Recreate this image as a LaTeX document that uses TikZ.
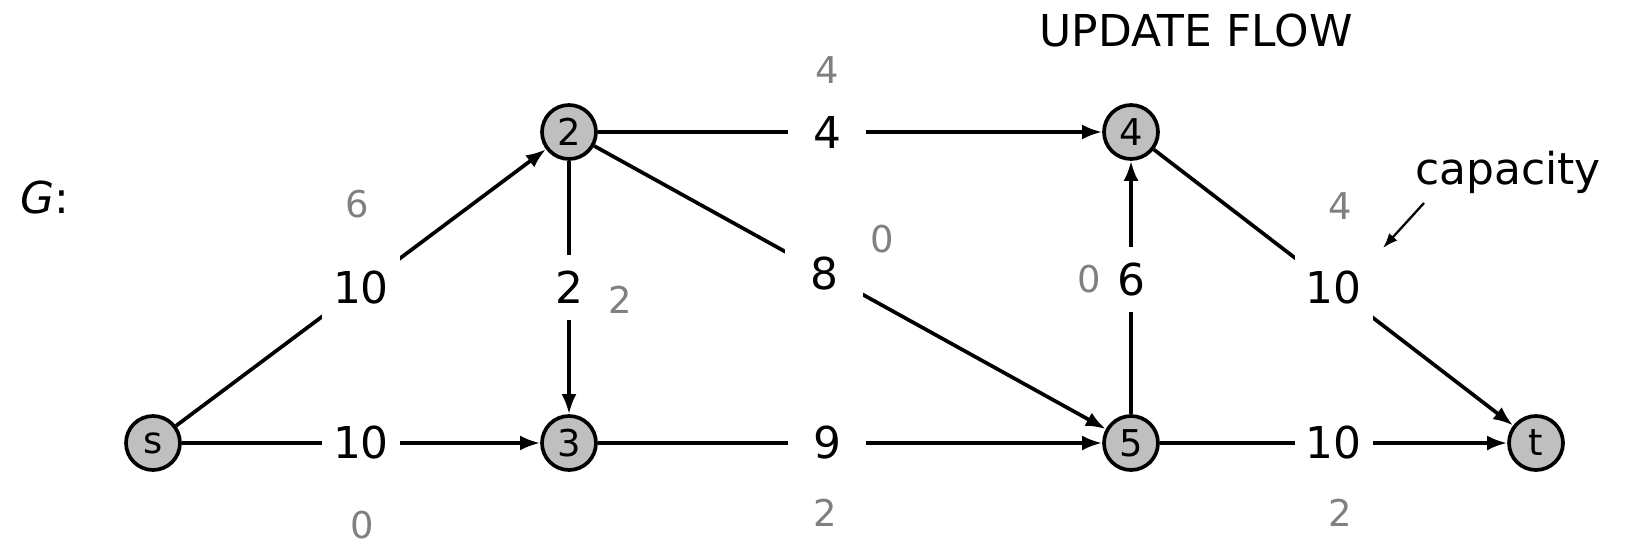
\documentclass[tikz,border=0pt]{standalone}
\usepackage{fontspec}
\setmainfont{DejaVu Sans}
\usetikzlibrary{arrows.meta}

\begin{document}
\begin{tikzpicture}[
  x=0.02cm, y=-0.02cm,
  >={Latex[length=0.4cm, width=0.3cm]}, line width=2.1pt,
  vertex/.style = {draw, circle, fill=gray!50, minimum size=1.08cm, inner sep=0pt,
                   font=\fontsize{21}{25}\selectfont},
  capbox/.style = {fill=white, minimum width=1.56cm, minimum height=1.3cm, inner sep=0pt,
                   font=\fontsize{25}{30}\selectfont},
  flow/.style   = {text=gray, font=\fontsize{21}{25}\selectfont},
  note/.style   = {font=\fontsize{25}{30}\selectfont},
]
  \useasboundingbox (0,0) rectangle (1631,544);

  % vertices
  \node[vertex] (s)  at (153,443)  {s};
  \node[vertex] (v2) at (569,132)  {2};
  \node[vertex] (v3) at (569,443)  {3};
  \node[vertex] (v4) at (1131,132) {4};
  \node[vertex] (v5) at (1131,443) {5};
  \node[vertex] (t)  at (1536,443) {t};

  % edges with capacities
  \draw[->] (s)  -- node[capbox]{10} (v2);
  \draw[->] (s)  -- node[capbox]{10} (v3);
  \draw[->] (v2) -- node[capbox, pos=0.455]{4} (v4);
  \draw[->] (v2) -- node[capbox]{2}  (v3);
  \draw[->] (v2) -- node[capbox, pos=0.45]{8} (v5);
  \draw[->] (v3) -- node[capbox, pos=0.455]{9} (v5);
  \draw[->] (v5) -- node[capbox, pos=0.53]{6} (v4);
  \draw[->] (v4) -- node[capbox]{10} (t);
  \draw[->] (v5) -- node[capbox]{10} (t);

  % flow values
  \node[flow] (f12) at (357,204)  {6};
  \node[flow] (f13) at (362,525)  {0};
  \node[flow] (f24) at (827,70)   {4};
  \node[flow] (f23) at (620,300)  {2};
  \node[flow] (f25) at (882,239)  {0};
  \node[flow] (f35) at (825,513)  {2};
  \node[flow] (f54) at (1089,279) {0};
  \node[flow] (f4t) at (1340,206) {4};
  \node[flow] (f5t) at (1340,513) {2};

  % notes
  \node[note] (G)     at (45,198)   {\textit{G}:};
  \node[note] (title) at (1196,31)  {UPDATE FLOW};
  \node[note] (capl)  at (1508,172) {capacity};
  \coordinate (cfrom) at (1424,203);
  \coordinate (ctip)  at (1383,248);
  \draw[->, line width=1.3pt, >={Latex[length=0.3cm, width=0.22cm]}] (cfrom) -- (ctip);
\end{tikzpicture}
\end{document}
